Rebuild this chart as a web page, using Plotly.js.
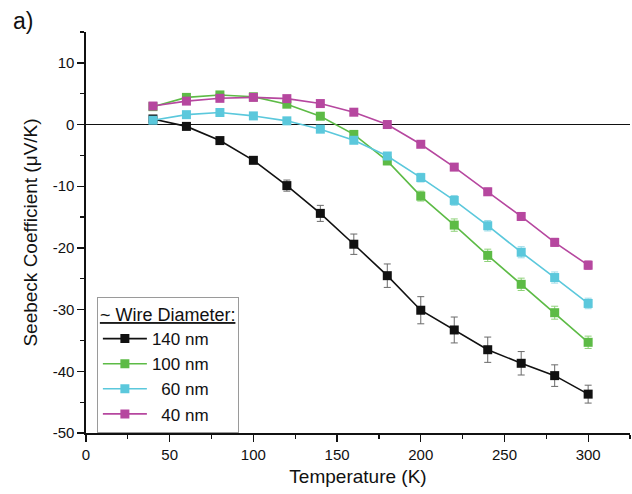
<!DOCTYPE html>
<html>
<head>
<meta charset="utf-8">
<script src="https://cdn.plot.ly/plotly-3.0.1.min.js"></script>
<style>html,body{margin:0;padding:0;background:#fff;}#chart{width:632px;height:494px;}</style>
</head>
<body>
<div id="chart"></div>
<script>
// Temperature (K)
const temperature = [40, 60, 80, 100, 120, 140, 160, 180, 200, 220, 240, 260, 280, 300];

// Seebeck coefficient (µV/K) per wire diameter
const s140 = [0.9, -0.3, -2.6, -5.8, -9.9, -14.4, -19.4, -24.5, -30.1, -33.3, -36.5, -38.7, -40.7, -43.7];
const e140 = [0.3, 0.3, 0.4, 0.5, 0.9, 1.3, 1.65, 1.9, 2.2, 2.1, 2.05, 1.9, 1.75, 1.45];

const s100 = [2.9, 4.4, 4.8, 4.5, 3.3, 1.35, -1.6, -5.9, -11.6, -16.3, -21.2, -25.9, -30.5, -35.3];
const e100 = [0.3, 0.3, 0.3, 0.3, 0.3, 0.4, 0.5, 0.6, 0.8, 1.0, 1.0, 1.0, 1.05, 1.0];

const s60 = [0.7, 1.6, 1.95, 1.4, 0.6, -0.75, -2.55, -5.1, -8.6, -12.3, -16.4, -20.7, -24.8, -29.0];
const e60 = [0.3, 0.3, 0.3, 0.3, 0.3, 0.3, 0.4, 0.5, 0.7, 0.8, 0.85, 0.9, 0.9, 0.85];

const s40 = [3.0, 3.8, 4.25, 4.4, 4.2, 3.4, 2.0, 0.0, -3.2, -6.9, -10.9, -14.9, -19.1, -22.8];
const e40 = [0.3, 0.3, 0.3, 0.3, 0.3, 0.3, 0.3, 0.4, 0.5, 0.55, 0.6, 0.6, 0.65, 0.7];

const seriesNames = ['140 nm', '100 nm', '&nbsp;&nbsp;60 nm', '&nbsp;&nbsp;40 nm'];
const seriesColors = ['#111111', '#5dbb46', '#5bc8dc', '#b6479f'];
const errorColors = ['#6a6a6a', '#8fd27a', '#9adbe8', '#cf85c0'];

const yTickVals = [-50, -40, -30, -20, -10, 0, 10];
const yTickText = ['-50', '-40', '-30', '-20', '-10', '0', '10'];

const values = [s140, s100, s60, s40];
const errors = [e140, e100, e60, e40];

const traces = values.map((v, i) => ({
  x: temperature,
  y: v,
  name: seriesNames[i],
  type: 'scatter',
  mode: 'lines+markers',
  line: {color: seriesColors[i], width: 1.6},
  marker: {symbol: 'square', size: 9, color: seriesColors[i], line: {width: 0}},
  error_y: {type: 'data', array: errors[i], visible: true, color: errorColors[i], thickness: 1, width: 3.5},
  hoverinfo: 'x+y'
}));

const font = 'Liberation Sans, Arial, sans-serif';

const layout = {
  width: 632,
  height: 494,
  margin: {l: 86, r: 2, t: 32, b: 61},
  paper_bgcolor: '#ffffff',
  plot_bgcolor: '#ffffff',
  font: {family: font, color: '#111', size: 15},
  showlegend: true,
  legend: {
    x: 0.02, y: 0.34, xanchor: 'left', yanchor: 'top',
    bgcolor: '#ffffff', bordercolor: '#9a9a9a', borderwidth: 1,
    font: {family: font, size: 17, color: '#111'},
    title: {text: '<span style="text-decoration:underline">~ Wire Diameter:</span>', font: {family: font, size: 18, color: '#111'}},
    tracegroupgap: 0,
    itemwidth: 44
  },
  xaxis: {
    range: [0, 325],
    tickmode: 'linear', tick0: 0, dtick: 50,
    ticks: 'outside', ticklen: 7, tickwidth: 1.3, tickcolor: '#111',
    minor: {dtick: 25, ticks: 'outside', ticklen: 4, tickwidth: 1.2, tickcolor: '#111'},
    showline: true, linecolor: '#111', linewidth: 1.6,
    showgrid: false, zeroline: false,
    tickfont: {family: font, size: 15, color: '#111'},
    title: {text: 'Temperature (K)', font: {family: font, size: 19, color: '#111'}, standoff: 8}
  },
  yaxis: {
    range: [-50, 15],
    tickmode: 'array', tickvals: yTickVals, ticktext: yTickText,
    ticks: 'outside', ticklen: 7, tickwidth: 1.3, tickcolor: '#111',
    minor: {dtick: 5, tick0: 0, ticks: 'outside', ticklen: 4, tickwidth: 1.2, tickcolor: '#111'},
    showline: true, linecolor: '#111', linewidth: 1.6,
    showgrid: false,
    zeroline: true, zerolinecolor: '#111', zerolinewidth: 1.4,
    tickfont: {family: font, size: 15, color: '#111'},
    title: {text: 'Seebeck Coefficient (μV/K)', font: {family: font, size: 19, color: '#111'}, standoff: 10}
  },
  xaxis2: {
    overlaying: 'x', side: 'top', anchor: 'y',
    range: [0, 325],
    tickmode: 'linear', tick0: 0, dtick: 50,
    ticks: 'inside', ticklen: 7, tickwidth: 1.3, tickcolor: '#111',
    minor: {dtick: 25, ticks: 'inside', ticklen: 4, tickwidth: 1.2, tickcolor: '#111'},
    showticklabels: false,
    showline: true, linecolor: '#111', linewidth: 1.6,
    showgrid: false, zeroline: false
  },
  yaxis2: {
    overlaying: 'y', side: 'right', anchor: 'x',
    range: [-50, 15],
    tickmode: 'linear', tick0: 0, dtick: 10,
    ticks: 'inside', ticklen: 7, tickwidth: 1.3, tickcolor: '#111',
    minor: {dtick: 5, tick0: 0, ticks: 'inside', ticklen: 4, tickwidth: 1.2, tickcolor: '#111'},
    showticklabels: false,
    showline: true, linecolor: '#111', linewidth: 1.6,
    showgrid: false, zeroline: false
  },
  annotations: [{
    text: 'a)', xref: 'paper', yref: 'paper',
    x: -0.138, y: 1.065, xanchor: 'left', yanchor: 'top',
    showarrow: false, font: {family: font, size: 23, color: '#111'}
  }]
};

Plotly.newPlot('chart', traces, layout, {displayModeBar: false, staticPlot: true});
</script>
</body>
</html>
